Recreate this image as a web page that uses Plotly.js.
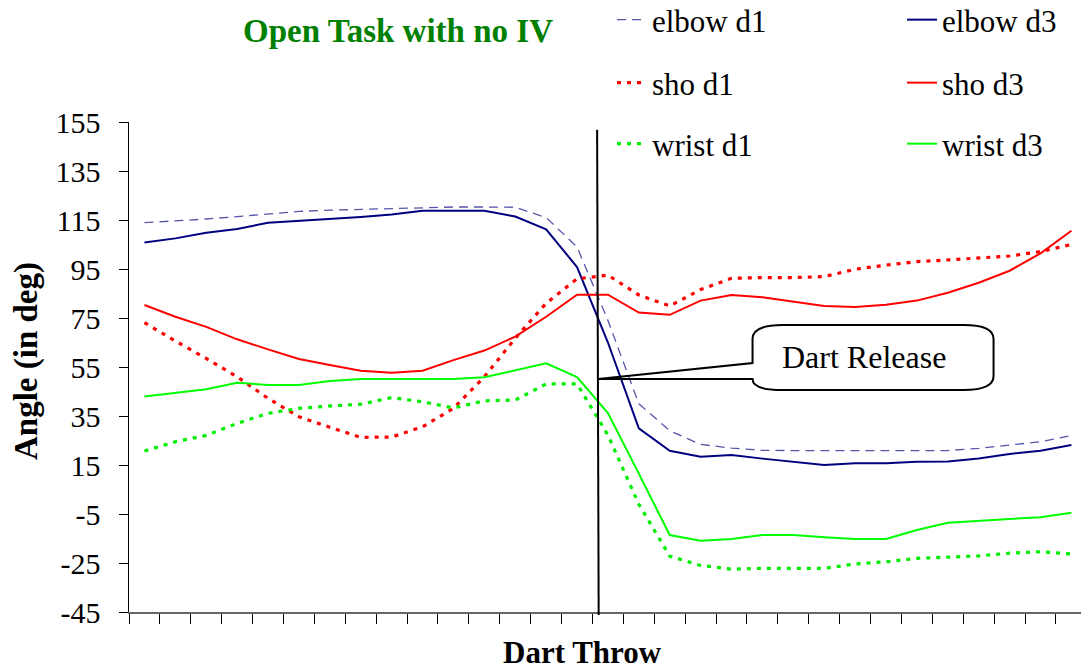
<!DOCTYPE html>
<html>
<head>
<meta charset="utf-8">
<script src="https://cdn.plot.ly/plotly-3.0.1.min.js"></script>
<style>html,body{margin:0;padding:0;background:#fff;}#chart{width:1081px;height:672px;}</style>
</head>
<body>
<div id="chart"></div>
<script>
// ---- data (31 samples of the dart throw) ----
var samples = [0,1,2,3,4,5,6,7,8,9,10,11,12,13,14,15,16,17,18,19,20,21,22,23,24,25,26,27,28,29,30];
var elbowD1 = [113.9,114.6,115.4,116.4,117.3,118.5,119,119.4,119.6,120.2,120.3,120.3,120.2,116,104,74,40,29,23.4,21.9,21,20.9,20.9,20.9,20.9,20.9,20.9,21.8,23.1,24.5,27];
var elbowD3 = [105.8,107.5,109.8,111.3,113.9,114.6,115.4,116.2,117.2,118.8,118.8,118.8,116.4,111.2,95.8,65,30,20.8,18.4,19.1,17.6,16.3,15,15.7,15.7,16.3,16.4,17.7,19.5,20.8,23.2];
var shoD1 = [73.1,65.6,58.5,51,42.2,34.7,30.4,26.3,26.4,30.6,38.1,51,66.7,81,91,92.5,84.4,79.9,86.6,91.2,91.5,91.5,91.9,94.9,96.6,98,98.7,99.6,100.3,102.1,105];
var shoD3 = [80.3,75.5,71.4,66.3,62.2,58.3,55.8,53.5,52.7,53.5,57.8,61.7,67.4,75.5,84.5,84.5,77.2,76.3,82.1,84.4,83.5,81.7,79.9,79.5,80.4,82.1,85.3,89.4,94.3,101.4,110.6];
var wristD1 = [20.7,24.5,27.1,32,36.1,38.1,39.1,39.8,42.5,40.8,38.3,41.2,41.5,48.1,48.1,27.2,-1,-22.2,-26,-27.5,-27.2,-27.2,-27.2,-25.4,-24.5,-23.1,-22.7,-22.1,-21,-20.4,-21.3];
var wristD3 = [43,44.5,45.9,48.6,47.7,47.7,49.3,50.1,50.1,50.1,50.1,50.8,53.8,56.5,50.9,36.2,11.5,-13.6,-15.9,-15.2,-13.6,-13.6,-14.5,-15.2,-15.2,-11.5,-8.6,-7.7,-7,-6.3,-4.5];
var yTicks = [-45,-25,-5,15,35,55,75,95,115,135,155];

// ---- annotation anchors ----
var releaseX = 14.68;      // dart release instant (sample units)
var calloutText = 'Dart Release';

var serif = 'Liberation Serif, Times New Roman, serif';

function tr(name, y, color, width, dash, leg) {
  return {x: samples, y: y, name: name, type: 'scatter', mode: 'lines',
          line: {color: color, width: width, dash: dash}, legend: leg, hoverinfo: 'skip'};
}

var data = [
  tr('elbow d1', elbowD1, '#5555aa', 1.3, '9px,6px', 'legend'),
  tr('elbow d3', elbowD3, '#000080', 2, 'solid', 'legend2'),
  tr('sho d1', shoD1, '#ff0000', 3.2, '4px,6px', 'legend3'),
  tr('sho d3', shoD3, '#ff0000', 2, 'solid', 'legend4'),
  tr('wrist d1', wristD1, '#00ee00', 3.2, '4px,6px', 'legend5'),
  tr('wrist d3', wristD3, '#00ff00', 2, 'solid', 'legend6')
];

function legendAt(textPix, yPix) {
  return {orientation: 'v', x: (textPix - 40 - 129) / 952, xanchor: 'left',
          y: (612 - yPix) / 490, yanchor: 'middle',
          bgcolor: 'rgba(0,0,0,0)', borderwidth: 0,
          font: {family: serif, size: 31, color: '#000'}};
}

// callout box geometry (data units)
var bx0 = 19.68, bx1 = 27.48, by0 = 45.6, by1 = 72.1, rx = 0.97, ry = 5.7;
var baseHi = 56.6, baseLo = 50.1;
var calloutPath = 'M' + releaseX + ',' + baseLo +
  ' L' + bx0 + ',' + baseHi +
  ' L' + bx0 + ',' + (by1 - ry) +
  ' Q' + bx0 + ',' + by1 + ' ' + (bx0 + rx) + ',' + by1 +
  ' L' + (bx1 - rx) + ',' + by1 +
  ' Q' + bx1 + ',' + by1 + ' ' + bx1 + ',' + (by1 - ry) +
  ' L' + bx1 + ',' + (by0 + ry) +
  ' Q' + bx1 + ',' + by0 + ' ' + (bx1 - rx) + ',' + by0 +
  ' L' + (bx0 + rx) + ',' + by0 +
  ' Q' + bx0 + ',' + by0 + ' ' + bx0 + ',' + baseLo +
  ' Z';

var layout = {
  width: 1081, height: 672,
  margin: {l: 129, r: 0, t: 122, b: 60, autoexpand: false},
  paper_bgcolor: '#fff', plot_bgcolor: '#fff',
  font: {family: serif, color: '#000'},
  title: {text: '<b>Open Task with no IV</b>', x: 398 / 1081, xanchor: 'center',
          y: 1 - 30 / 672, yanchor: 'middle', font: {family: serif, size: 33, color: '#008000'}},
  xaxis: {range: [-0.5, 30.31], tick0: -0.5, dtick: 1, ticks: 'outside', ticklen: 10,
          tickcolor: '#000', tickwidth: 1, showticklabels: false, showgrid: false, zeroline: false,
          showline: true, linecolor: '#666', linewidth: 2, fixedrange: true},
  yaxis: {range: [-45, 155], tickvals: yTicks, ticktext: yTicks.map(String), ticks: 'outside',
          ticklen: 9, tickcolor: '#000', tickwidth: 1, showgrid: false, zeroline: false,
          showline: true, linecolor: '#000', linewidth: 1.5, ticklabelstandoff: 12,
          tickfont: {family: serif, size: 30, color: '#000'}, fixedrange: true},
  legend: legendAt(652, 20),
  legend2: legendAt(942, 20),
  legend3: legendAt(652, 83),
  legend4: legendAt(942, 83),
  legend5: legendAt(652, 144),
  legend6: legendAt(942, 144),
  shapes: [
    {type: 'line', xref: 'x', yref: 'paper', x0: releaseX - 0.03, x1: releaseX + 0.02,
     y0: 0.984, y1: -0.006, line: {color: '#000', width: 2}, layer: 'above'},
    {type: 'path', xref: 'x', yref: 'y', path: calloutPath,
     line: {color: '#000', width: 2}, fillcolor: 'rgba(0,0,0,0)', layer: 'above'}
  ],
  annotations: [
    {text: calloutText, xref: 'x', yref: 'y', x: 23.3, y: 59.2,
     showarrow: false, font: {family: serif, size: 32, color: '#000'}},
    {text: '<b>Dart Throw</b>', xref: 'paper', yref: 'paper', x: (582 - 129) / 952,
     y: (612 - 652) / 490, xanchor: 'center', yanchor: 'middle', showarrow: false,
     font: {family: serif, size: 31, color: '#000'}},
    {text: '<b>Angle (in deg)</b>', xref: 'paper', yref: 'paper', x: (26 - 129) / 952,
     y: (612 - 361) / 490, xanchor: 'center', yanchor: 'middle', textangle: -90, showarrow: false,
     font: {family: serif, size: 33, color: '#000'}}
  ],
  showlegend: true
};

Plotly.newPlot('chart', data, layout, {staticPlot: true, displayModeBar: false});
</script>
</body>
</html>
